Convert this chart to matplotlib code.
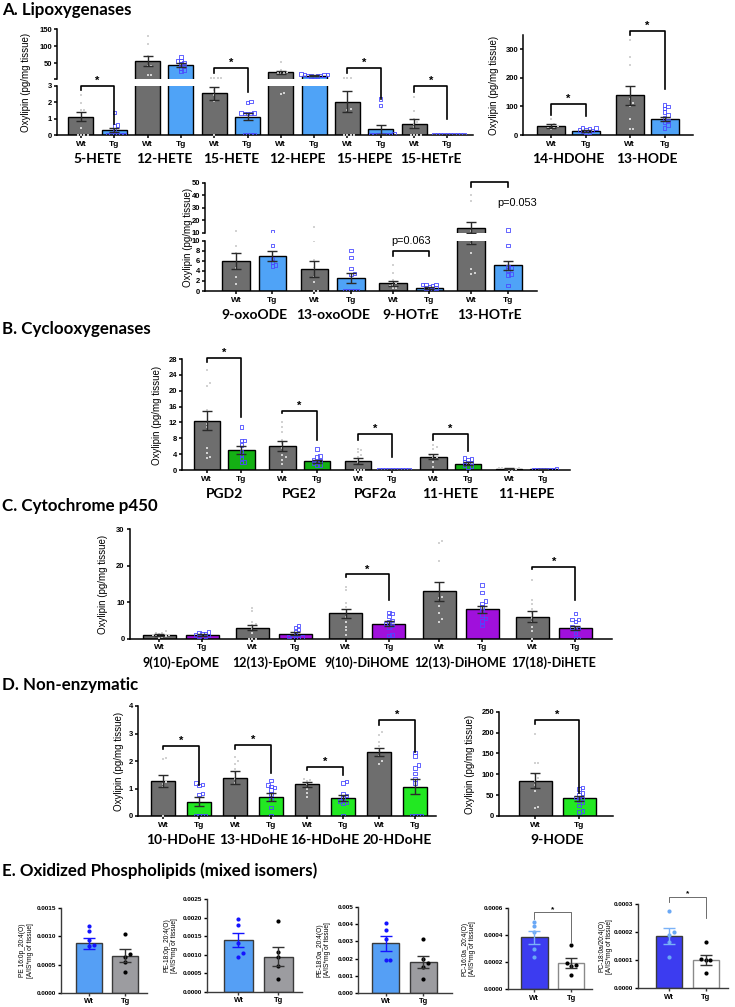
import numpy as np
import matplotlib
matplotlib.use('Agg')
import matplotlib.pyplot as plt
from matplotlib.lines import Line2D

# ---------------- data ----------------
# A. Lipoxygenases (broken axis)
lox_groups = ['5-HETE', '12-HETE', '15-HETE', '12-HEPE', '15-HEPE', '15-HETrE']
lox_wt = [1.12, 56, 2.55, 23, 2.05, 0.7]
lox_wt_sem = [0.27, 14, 0.4, 4.5, 0.65, 0.27]
lox_tg = [0.3, 44, 1.12, 13, 0.35, 0.0]
lox_tg_sem = [0.12, 5, 0.22, 1.5, 0.26, 0.0]
lox_wt_pts = [[2.45, 1.95, 1.55, 1.55, 0.4, 0, 0, 0, 0],
              [130, 106, 71, 41, 41, 14, 14],
              [6, 6, 6, 6, 2.75, 2.45, 2.1, 0],
              [54, 30, 25, 22, 22, 20, 2.6, 2.5],
              [6, 6, 6, 1.6, 1.55, 0, 0, 0, 0],
              [2.3, 1.5, 1.0, 0.8, 0.7, 0.5, 0, 0, 0, 0]]
lox_tg_pts = [[1.37, 0.6, 0.55, 0.3, 0, 0, 0, 0, 0, 0],
              [68, 58, 56, 52, 48, 40, 35, 30, 25],
              [2.05, 2.0, 1.35, 1.35, 1.3, 1.3, 1.3, 0, 0, 0, 0],
              [18, 17, 16, 15, 14, 13, 12, 12, 11],
              [2.2, 1.8, 0.1, 0, 0, 0, 0, 0, 0, 0],
              [0, 0, 0, 0, 0, 0, 0, 0, 0, 0]]
lox_sig = [(0, 3.0, 2.75, 0.7), (2, 35, 20.6, 2.64), (4, 35, 20, 2.2), (5, 3.0, 2.65, 1.0)]

lox2_groups = ['14-HDOHE', '13-HODE']
lox2_wt = [30, 138]
lox2_wt_sem = [7, 32]
lox2_tg = [15, 57]
lox2_tg_sem = [4, 7]
lox2_wt_pts = [[57, 38, 35, 30, 26, 24, 20],
               [330, 272, 245, 125, 110, 100, 55, 20, 20]]
lox2_tg_pts = [[25, 24, 22, 20, 18, 15, 12, 10, 8],
               [105, 100, 92, 80, 70, 60, 50, 45, 35, 25]]
lox2_sig = [(0, 108, 70, 65), (1, 364, 350, 160)]

lox3_groups = ['9-oxoODE', '13-oxoODE', '9-HOTrE', '13-HOTrE']
lox3_wt = [6.0, 4.4, 1.5, 14.0]
lox3_wt_sem = [1.65, 1.55, 0.45, 4.6]
lox3_tg = [7.0, 2.6, 0.6, 5.1]
lox3_tg_sem = [0.95, 0.95, 0.15, 0.9]
lox3_wt_pts = [[11.4, 9.0, 7.6, 4.5, 2.7, 1.4],
               [14.8, 9.9, 6.2, 4.6, 2.8, 1.8, 0, 0],
               [5.2, 3.6, 2.2, 1.8, 1.5, 1.2, 1.0, 0.6, 0.5],
               [40, 35.5, 11.4, 9.4, 7.5, 4.4, 3.6, 3.3]]
lox3_tg_pts = [[10.5, 9.0, 6.5, 5.7, 5.2, 5.0],
               [8.1, 6.7, 4.5, 3.5, 3.3, 0, 0, 0, 0, 0],
               [1.3, 1.3, 1.3, 1.1, 0.9, 0.6, 0.5, 0.3, 0.2],
               [12.2, 9.0, 4.9, 4.6, 4.2, 3.4, 3.2, 1.1]]

# B. Cyclooxygenases
cox_groups = ['PGD2', 'PGE2', 'PGF2α', '11-HETE', '11-HEPE']
cox_wt = [12.4, 6.1, 2.3, 3.4, 0.3]
cox_wt_sem = [2.4, 1.2, 0.7, 0.55, 0.1]
cox_tg = [5.0, 2.2, 0.0, 1.6, 0.15]
cox_tg_sem = [0.95, 0.4, 0.0, 0.3, 0.05]
cox_wt_pts = [[25.2, 21.9, 21.2, 15.1, 11.6, 10.8, 5.5, 4.4, 3.4, 3.0],
              [12, 10.8, 9.7, 7.6, 6.7, 5.5, 3.8, 3.3, 2.6, 1.5],
              [5.3, 5.0, 4.5, 3.9, 3.2, 1.9, 0, 0, 0, 0],
              [6.4, 5.8, 5.4, 3.7, 3.4, 3.3, 1.9, 0.8],
              [0.6, 0.5, 0.4, 0.3, 0.2, 0.1, 0.0]]
cox_tg_pts = [[10.8, 7.5, 7.4, 6.3, 4.6, 3.8, 3.0, 2.0, 1.9],
              [5.3, 3.5, 3.3, 2.6, 2.3, 1.9, 1.7, 1.3, 1.1],
              [0, 0, 0, 0, 0, 0, 0, 0, 0, 0],
              [3.0, 2.8, 2.6, 2.2, 1.9, 1.6, 1.3, 1.0, 0.8],
              [0.25, 0.2, 0.2, 0.15, 0.1, 0.1, 0.05, 0.0]]
cox_sig = [(0, 28.3, 27.3, 13.4), (1, 15, 14.4, 7.5), (2, 9.0, 7.6, 3.3), (3, 9.0, 7.6, 4.9)]

# C. Cytochrome p450
cyp_groups = ['9(10)-EpOME', '12(13)-EpOME', '9(10)-DiHOME', '12(13)-DiHOME', '17(18)-DiHETE']
cyp_wt = [1.0, 3.0, 6.9, 13.0, 6.0]
cyp_wt_sem = [0.2, 0.7, 1.2, 2.6, 1.5]
cyp_tg = [0.9, 1.3, 4.1, 8.0, 3.0]
cyp_tg_sem = [0.2, 0.4, 0.6, 1.05, 0.55]
cyp_wt_pts = [[2.0, 1.6, 1.4, 1.2, 1.0, 0.9, 0.8, 0.6, 0.4, 0.2],
              [8.5, 7.5, 4.5, 4.0, 3.6, 2.5, 1.5, 0, 0, 0],
              [14.2, 13.3, 9.8, 8.7, 6.0, 4.6, 3.2, 2.2, 1.0],
              [26.7, 26.2, 21.3, 11.5, 11.0, 8.9, 6.9, 5.3, 4.5],
              [16.0, 10.5, 9.4, 8.0, 7.0, 5.6, 4.6, 3.2, 2.0, 0]]
cyp_tg_pts = [[1.8, 1.5, 1.4, 1.2, 1.0, 0.8, 0.6, 0.5, 0.3],
              [3.6, 3.0, 2.5, 2.0, 1.0, 0.5, 0.4, 0.3, 0.2, 0.1],
              [7.1, 6.8, 6.0, 5.0, 4.6, 4.0, 3.5, 3.2, 1.0, 0.8],
              [14.7, 12.7, 10.3, 9.6, 8.6, 7.5, 6.5, 5.5, 4.8, 3.5],
              [6.9, 5.3, 5.2, 4.6, 3.2, 2.8, 2.5, 1.5, 0, 0]]
cyp_sig = [(2, 17.6, 16.8, 10.5), (4, 19.7, 19.0, 10.5)]

# D. Non-enzymatic
ne_groups = ['10-HDoHE', '13-HDoHE', '16-HDoHE', '20-HDoHE']
ne_wt = [1.27, 1.40, 1.15, 2.33]
ne_wt_sem = [0.23, 0.22, 0.1, 0.15]
ne_tg = [0.52, 0.70, 0.65, 1.07]
ne_tg_sem = [0.17, 0.15, 0.12, 0.28]
ne_wt_pts = [[2.12, 2.06, 1.25, 1.17, 1.05, 0],
             [2.15, 2.0, 1.9, 1.7, 1.55, 1.35, 1.2],
             [1.35, 1.32, 1.28, 1.2, 1.15, 1.0, 0.85, 0.7],
             [3.05, 2.95, 2.7, 2.55, 2.35, 2.2, 2.0, 1.9]]
ne_tg_pts = [[1.2, 1.15, 1.1, 0.82, 0.78, 0, 0, 0, 0],
             [1.3, 1.13, 1.08, 1.03, 0.95, 0.8, 0.6, 0.3, 0],
             [1.25, 1.2, 0.8, 0.75, 0.65, 0.55, 0.5, 0.45, 0],
             [2.3, 2.18, 1.85, 1.75, 1.55, 1.35, 1.2, 0, 0, 0, 0]]
ne_sig = [(0, 2.56, 2.44, 1.13), (1, 2.58, 2.45, 1.56), (2, 1.79, 1.67, 1.49), (3, 3.49, 3.3, 2.34)]

hode_groups = ['9-HODE']
hode_wt = [85]
hode_wt_sem = [17]
hode_tg = [42]
hode_tg_sem = [6]
hode_wt_pts = [[197, 128, 127, 100, 90, 85, 75, 60, 22, 20]]
hode_tg_pts = [[68, 65, 55, 50, 45, 42, 38, 32, 25, 12, 10]]
hode_sig = [(0, 230, 220, 55)]

# E. Oxidized phospholipids
ox_names = ['PE 16:0p_20:4(O)', 'PE-18:0p_20:4(O)', 'PE-18:0a_20:4(O)',
            'PC-16:0a_20:4(O)', 'PC-18:0a/20:4(O)']
ox_wt = [0.00088, 0.0014, 0.00289, 0.000382, 0.000188]
ox_wt_sem = [0.0001, 0.0002, 0.00045, 0.00005, 0.000028]
ox_tg = [0.00066, 0.00095, 0.00181, 0.000191, 0.000101]
ox_tg_sem = [0.00011, 0.00025, 0.00034, 0.000037, 0.000018]
ox_wt_pts = [[0.00119, 0.0011, 0.00093, 0.00084, 0.00083],
             [0.00198, 0.0018, 0.00132, 0.00104, 0.00095],
             [0.00406, 0.00367, 0.00312, 0.00191, 0.0019],
             [0.000497, 0.000465, 0.000424, 0.0003, 0.000235],
             [0.000276, 0.000202, 0.00019, 0.000164, 0.000111]]
ox_tg_pts = [[0.00104, 0.00069, 0.00064, 0.00055, 0.00037],
             [0.0019, 0.00107, 0.00093, 0.0007, 0.00035],
             [0.00312, 0.00195, 0.00172, 0.00149, 0.0008],
             [0.000328, 0.000191, 0.00018, 0.00017, 0.000105],
             [0.000166, 0.000104, 0.000102, 0.0001, 0.000054]]
ox_ymax = [0.0015, 0.0025, 0.005, 0.0006, 0.0003]
ox_ystep = [0.0005, 0.0005, 0.001, 0.0002, 0.0001]
ox_fmt = ['%.4f', '%.4f', '%.3f', '%.4f', '%.4f']
ox_sig = {3: (0.000566, 0.00052, 0.00035), 4: (0.000327, 0.00031, 0.00025)}

# ---------------- style ----------------
W, H = 735, 1007
plt.rcParams['font.family'] = ['Liberation Sans', 'DejaVu Sans']
plt.rcParams['font.weight'] = 'bold'
HEAD = ['Lato', 'DejaVu Sans']
WT_COLOR = '#6e6e6e'
WT_DOT = '#d2d2d2'
TG_DOT = '#4b4bff'
INF = np.inf

fig = plt.figure(figsize=(W / 100, H / 100), dpi=100)


def px_axes(x0, y0, x1, y1):
    return fig.add_axes([x0 / W, 1 - y1 / H, (x1 - x0) / W, (y1 - y0) / H])


def setup(ax, xlim, ylim, yticks, ylabels=None, bottom=True, lw=1.1, fs=5.5):
    ax.set_xlim(xlim)
    ax.set_ylim(ylim)
    ax.set_yticks(yticks)
    if ylabels is not None:
        ax.set_yticklabels(ylabels)
    ax.spines['top'].set_visible(False)
    ax.spines['right'].set_visible(False)
    ax.spines['left'].set_linewidth(lw)
    ax.spines['bottom'].set_linewidth(lw)
    ax.tick_params(axis='y', labelsize=fs, length=2.5, width=lw, pad=1)
    if not bottom:
        ax.spines['bottom'].set_visible(False)
        ax.set_xticks([])
    ax.patch.set_alpha(0)


def yfun_of(ax):
    return lambda v: ax.transData.transform((0, v))[1]


def broken_yfun(lo, up, brk):
    return lambda v: (lo if v <= brk else up).transData.transform((0, v))[1]


def swarm_x(ax, yfun, x0, vals, d):
    upx = ax.transData.transform((1, 0))[0] - ax.transData.transform((0, 0))[0]
    ys = np.array([yfun(v) for v in vals])
    xs = np.zeros(len(vals))
    placed = []
    for i in np.argsort(ys, kind='stable'):
        k = 0
        while True:
            off = ((k + 1) // 2) * d * (1 if k % 2 else -1) if k else 0.0
            if all((off - xs[j]) ** 2 + (ys[i] - ys[j]) ** 2 >= (0.95 * d) ** 2 for j in placed):
                break
            k += 1
        xs[i] = off
        placed.append(i)
    return x0 + xs / upx


def panel(axs, ranges, yfun, gap, width, wt, wsem, tg, tsem, wpts, tpts, tg_color, d=3.3):
    # ranges: value window shown by each axis (for broken axes)
    n = len(wt)
    xw = gap * np.arange(n)
    xt = xw + 1
    wt, wsem, tg, tsem = map(np.asarray, (wt, wsem, tg, tsem))
    base = axs[-1]
    for ax, (vmin, vmax) in zip(axs, ranges):
        mw = wt > vmin
        mt = tg > vmin
        ax.bar(xw[mw], wt[mw], width, color=WT_COLOR, edgecolor='k', lw=1.0, zorder=2)
        ax.bar(xt[mt], tg[mt], width, color=tg_color, edgecolor='k', lw=1.0, zorder=2)
        ew = (wt + wsem) > vmin
        et = (tg + tsem) > vmin
        ax.errorbar(xw[ew], wt[ew], yerr=wsem[ew], fmt='none', ecolor='#2a2a2a',
                    elinewidth=1, capsize=3.5, capthick=1, zorder=4)
        ax.errorbar(xt[et], tg[et], yerr=tsem[et], fmt='none', ecolor='#2a2a2a',
                    elinewidth=1, capsize=3.5, capthick=1, zorder=4)
    for i in range(n):
        wv = np.asarray(wpts[i], float)
        tv = np.asarray(tpts[i], float)
        sx = swarm_x(base, yfun, xw[i], wv, d)
        tx = swarm_x(base, yfun, xt[i], tv, d)
        for ax, (vmin, vmax) in zip(axs, ranges):
            mw = (wv >= vmin) & (wv <= vmax) if vmin < 0 else (wv > vmin) & (wv <= vmax)
            mt = (tv >= vmin) & (tv <= vmax) if vmin < 0 else (tv > vmin) & (tv <= vmax)
            ax.scatter(sx[mw], wv[mw], s=4, marker='s', color=WT_DOT, lw=0, zorder=3)
            ax.scatter(tx[mt], tv[mt], s=6, marker='s', facecolor='none',
                       edgecolor=TG_DOT, lw=0.6, zorder=3)
    return xw, xt


def xlabels(ax, xw, xt, groups, fs=6, gfs=10, goff=24, lw=1.1):
    ticks = np.ravel(np.column_stack([xw, xt]))
    ax.set_xticks(ticks)
    ax.set_xticklabels(['Wt', 'Tg'] * len(xw))
    ax.tick_params(axis='x', labelsize=fs, length=2.5, width=lw, pad=1.8)
    for g, a, b in zip(groups, xw, xt):
        ax.annotate(g, xy=((a + b) / 2, 0), xycoords=('data', 'axes fraction'),
                    xytext=(0, -goff * 0.72), textcoords='offset points',
                    ha='center', va='center', fontsize=gfs, family=HEAD, fontweight='bold')


def bracket(ax, yfun, x1, x2, top, left, right, text='*', fs=8, off=5,
            lw=1.2, color='k', weight='bold'):
    fw, fh = fig.bbox.width, fig.bbox.height
    X1 = ax.transData.transform((x1, 0))[0]
    X2 = ax.transData.transform((x2, 0))[0]
    ys = [yfun(left), yfun(top), yfun(top), yfun(right)]
    fig.add_artist(Line2D([X1 / fw, X1 / fw, X2 / fw, X2 / fw], [y / fh for y in ys],
                          color=color, lw=lw, transform=fig.transFigure))
    if text:
        fig.text((X1 + X2) / 2 / fw, (yfun(top) + off) / fh, text, ha='center',
                 va='center', fontsize=fs, fontweight=weight)


def ylab(x, y, text, fs=7):
    fig.text(x / W, 1 - y / H, text, rotation=90, ha='center', va='center',
             fontsize=fs, fontweight='normal', linespacing=1.1)


def title(y, text, fs=12.2):
    fig.text(2 / W, 1 - y / H, text, ha='left', va='center', fontsize=fs,
             family=HEAD, fontweight='bold')


YL = 'Oxylipin (pg/mg tissue)'
ALL = [(-INF, INF)]

# ---------------- A. Lipoxygenases ----------------
title(10, 'A. Lipoxygenases')
up = px_axes(57, 29, 473, 79)
lo = px_axes(57, 86, 473, 135)
setup(up, (-0.72, 11.77), (3, 150), [3, 50, 100, 150], ['', '50', '100', '150'], bottom=False)
setup(lo, (-0.72, 11.77), (0, 3), [0, 1, 2, 3])
yA = broken_yfun(lo, up, 3.0)
xw, xt = panel([up, lo], [(3.0, INF), (-INF, 3.0)], yA, 2, 0.75, lox_wt, lox_wt_sem,
               lox_tg, lox_tg_sem, lox_wt_pts, lox_tg_pts, '#4fa3f7')
xlabels(lo, xw, xt, lox_groups)
for g, top, l, r in lox_sig:
    bracket(lo, yA, xw[g], xt[g], top, l, r)
ylab(26, 82, YL)

ax = px_axes(523, 34.7, 693, 135)
setup(ax, (-0.8, 4.06), (0, 350), [0, 100, 200, 300])
yB = yfun_of(ax)
xw, xt = panel([ax], ALL, yB, 2.25, 0.8, lox2_wt, lox2_wt_sem, lox2_tg, lox2_tg_sem,
               lox2_wt_pts, lox2_tg_pts, '#4fa3f7')
xlabels(ax, xw, xt, lox2_groups)
for g, top, l, r in lox2_sig:
    bracket(ax, yB, xw[g], xt[g], top, l, r)
ylab(494, 85, YL)

up = px_axes(205, 182.7, 537, 232.7)
lo = px_axes(205, 240.7, 537, 291)
setup(up, (-0.85, 8.25), (10, 50), [10, 20, 30, 40, 50], bottom=False)
setup(lo, (-0.85, 8.25), (0, 10), [0, 2, 4, 6, 8, 10])
yM = broken_yfun(lo, up, 10.0)
xw, xt = panel([up, lo], [(10.0, INF), (-INF, 10.0)], yM, 2.15, 0.76, lox3_wt, lox3_wt_sem,
               lox3_tg, lox3_tg_sem, lox3_wt_pts, lox3_tg_pts, '#4fa3f7')
xlabels(lo, xw, xt, lox3_groups)
bracket(lo, yM, xw[2], xt[2], 7.9, 7.0, 7.0, text='p=0.063', fs=7.8, off=10, weight='normal')
bracket(lo, yM, xw[3], xt[3], 50.8, 46.5, 46.5, text=None)
up.text(xt[3] + 0.25, 34, 'p=0.053', ha='center', va='center', fontsize=7.8,
        fontweight='normal', clip_on=False)
ylab(188, 237, YL)

# ---------------- B. Cyclooxygenases ----------------
title(329, 'B. Cyclooxygenases')
ax = px_axes(182, 359, 570, 470)
setup(ax, (-0.72, 10.53), (0, 28), np.arange(0, 29, 4))
yC = yfun_of(ax)
xw, xt = panel([ax], ALL, yC, 2.19, 0.77, cox_wt, cox_wt_sem, cox_tg, cox_tg_sem,
               cox_wt_pts, cox_tg_pts, '#14b014')
xlabels(ax, xw, xt, cox_groups)
for g, top, l, r in cox_sig:
    bracket(ax, yC, xw[g], xt[g], top, l, r)
ylab(157, 415, YL)

# ---------------- C. Cytochrome p450 ----------------
title(506, 'C. Cytochrome p450')
ax = px_axes(129.5, 529.3, 612, 638.5)
setup(ax, (-0.69, 10.53), (0, 30), [0, 10, 20, 30])
yD = yfun_of(ax)
xw, xt = panel([ax], ALL, yD, 2.17, 0.77, cyp_wt, cyp_wt_sem, cyp_tg, cyp_tg_sem,
               cyp_wt_pts, cyp_tg_pts, '#a010dc')
xlabels(ax, xw, xt, cyp_groups, gfs=9.0)
for g, top, l, r in cyp_sig:
    bracket(ax, yD, xw[g], xt[g], top, l, r)
ylab(103, 584, YL)

# ---------------- D. Non-enzymatic ----------------
title(685, 'D. Non-enzymatic')
ax = px_axes(138, 706, 436, 816)
setup(ax, (-0.7, 7.58), (0, 4), [0, 1, 2, 3, 4])
yE = yfun_of(ax)
xw, xt = panel([ax], ALL, yE, 2.0, 0.67, ne_wt, ne_wt_sem, ne_tg, ne_tg_sem,
               ne_wt_pts, ne_tg_pts, '#22e822')
xlabels(ax, xw, xt, ne_groups)
for g, top, l, r in ne_sig:
    bracket(ax, yE, xw[g], xt[g], top, l, r)
ylab(119, 761, YL)

ax = px_axes(499, 711.7, 613, 816)
setup(ax, (-0.82, 1.77), (0, 250), [0, 50, 100, 150, 200, 250])
yF = yfun_of(ax)
xw, xt = panel([ax], ALL, yF, 2.0, 0.75, hode_wt, hode_wt_sem, hode_tg, hode_tg_sem,
               hode_wt_pts, hode_tg_pts, '#22e822')
xlabels(ax, xw, xt, hode_groups)
for g, top, l, r in hode_sig:
    bracket(ax, yF, xw[g], xt[g], top, l, r)
ylab(470, 764, YL)

# ---------------- E. Oxidized phospholipids ----------------
title(871, 'E. Oxidized Phospholipids (mixed isomers)')
e_boxes = [(60.7, 908.3, 147, 992.7), (207.3, 899.3, 301.7, 991.7),
           (358, 907.3, 451.7, 992.7), (508.3, 907.7, 591.7, 989.3),
           (638.3, 904.3, 728, 988.3)]
e_xlim = [(-0.79, 1.6), (-0.78, 1.58), (-0.74, 1.75), (-0.71, 1.56), (-0.84, 1.6)]
e_lab_x = [26.5, 170.5, 323.5, 469, 605.5]
for i in range(5):
    x0, y0, x1, y1 = e_boxes[i]
    ax = px_axes(x0, y0, x1, y1)
    ticks = np.arange(0, ox_ymax[i] + ox_ystep[i] / 2, ox_ystep[i])
    setup(ax, e_xlim[i], (0, ox_ymax[i]), ticks, [ox_fmt[i] % t for t in ticks], lw=1.0, fs=4.6)
    for s in ['left', 'bottom']:
        ax.spines[s].set_color('#3a3a3a')
    if i < 3:
        wc, wdot, wec, tc, tedge = '#559ff5', '#1414ff', '#1414ff', '#9c9ca0', '#3a3a3a'
    else:
        wc, wdot, wec, tc, tedge = '#3c3cf0', '#6aa8f5', '#7ab2f8', 'white', '#8a8a8a'
    ax.bar([0], [ox_wt[i]], 0.72, color=wc, edgecolor='#3a3a3a', lw=1.0, zorder=2)
    ax.bar([1], [ox_tg[i]], 0.72, color=tc, edgecolor=tedge, lw=1.0, zorder=2)
    yf = yfun_of(ax)
    sx = swarm_x(ax, yf, 0, ox_wt_pts[i], 4.5)
    tx = swarm_x(ax, yf, 1, ox_tg_pts[i], 4.5)
    ax.scatter(sx, ox_wt_pts[i], s=9, color=wdot, lw=0, zorder=3)
    ax.scatter(tx, ox_tg_pts[i], s=9, color='k', lw=0, zorder=3)
    ax.errorbar([0], [ox_wt[i]], yerr=[ox_wt_sem[i]], fmt='none', ecolor=wec,
                elinewidth=1, capsize=4, capthick=1, zorder=4)
    ax.errorbar([1], [ox_tg[i]], yerr=[ox_tg_sem[i]], fmt='none', ecolor='#333333',
                elinewidth=1, capsize=4, capthick=1, zorder=4)
    ax.set_xticks([0, 1])
    ax.set_xticklabels(['Wt', 'Tg'])
    ax.tick_params(axis='x', labelsize=5.5, length=2.5, width=1.0, pad=1.5, color='#3a3a3a')
    if i in ox_sig:
        top, l, r = ox_sig[i]
        bracket(ax, yf, 0, 1, top, l, r, fs=6, off=3, lw=0.6, color='#555555')
    ylab(e_lab_x[i], (y0 + y1) / 2, ox_names[i] + '\n[A/IS*mg of tissue]', fs=4.8)

fig.savefig('out.png', dpi=100)
